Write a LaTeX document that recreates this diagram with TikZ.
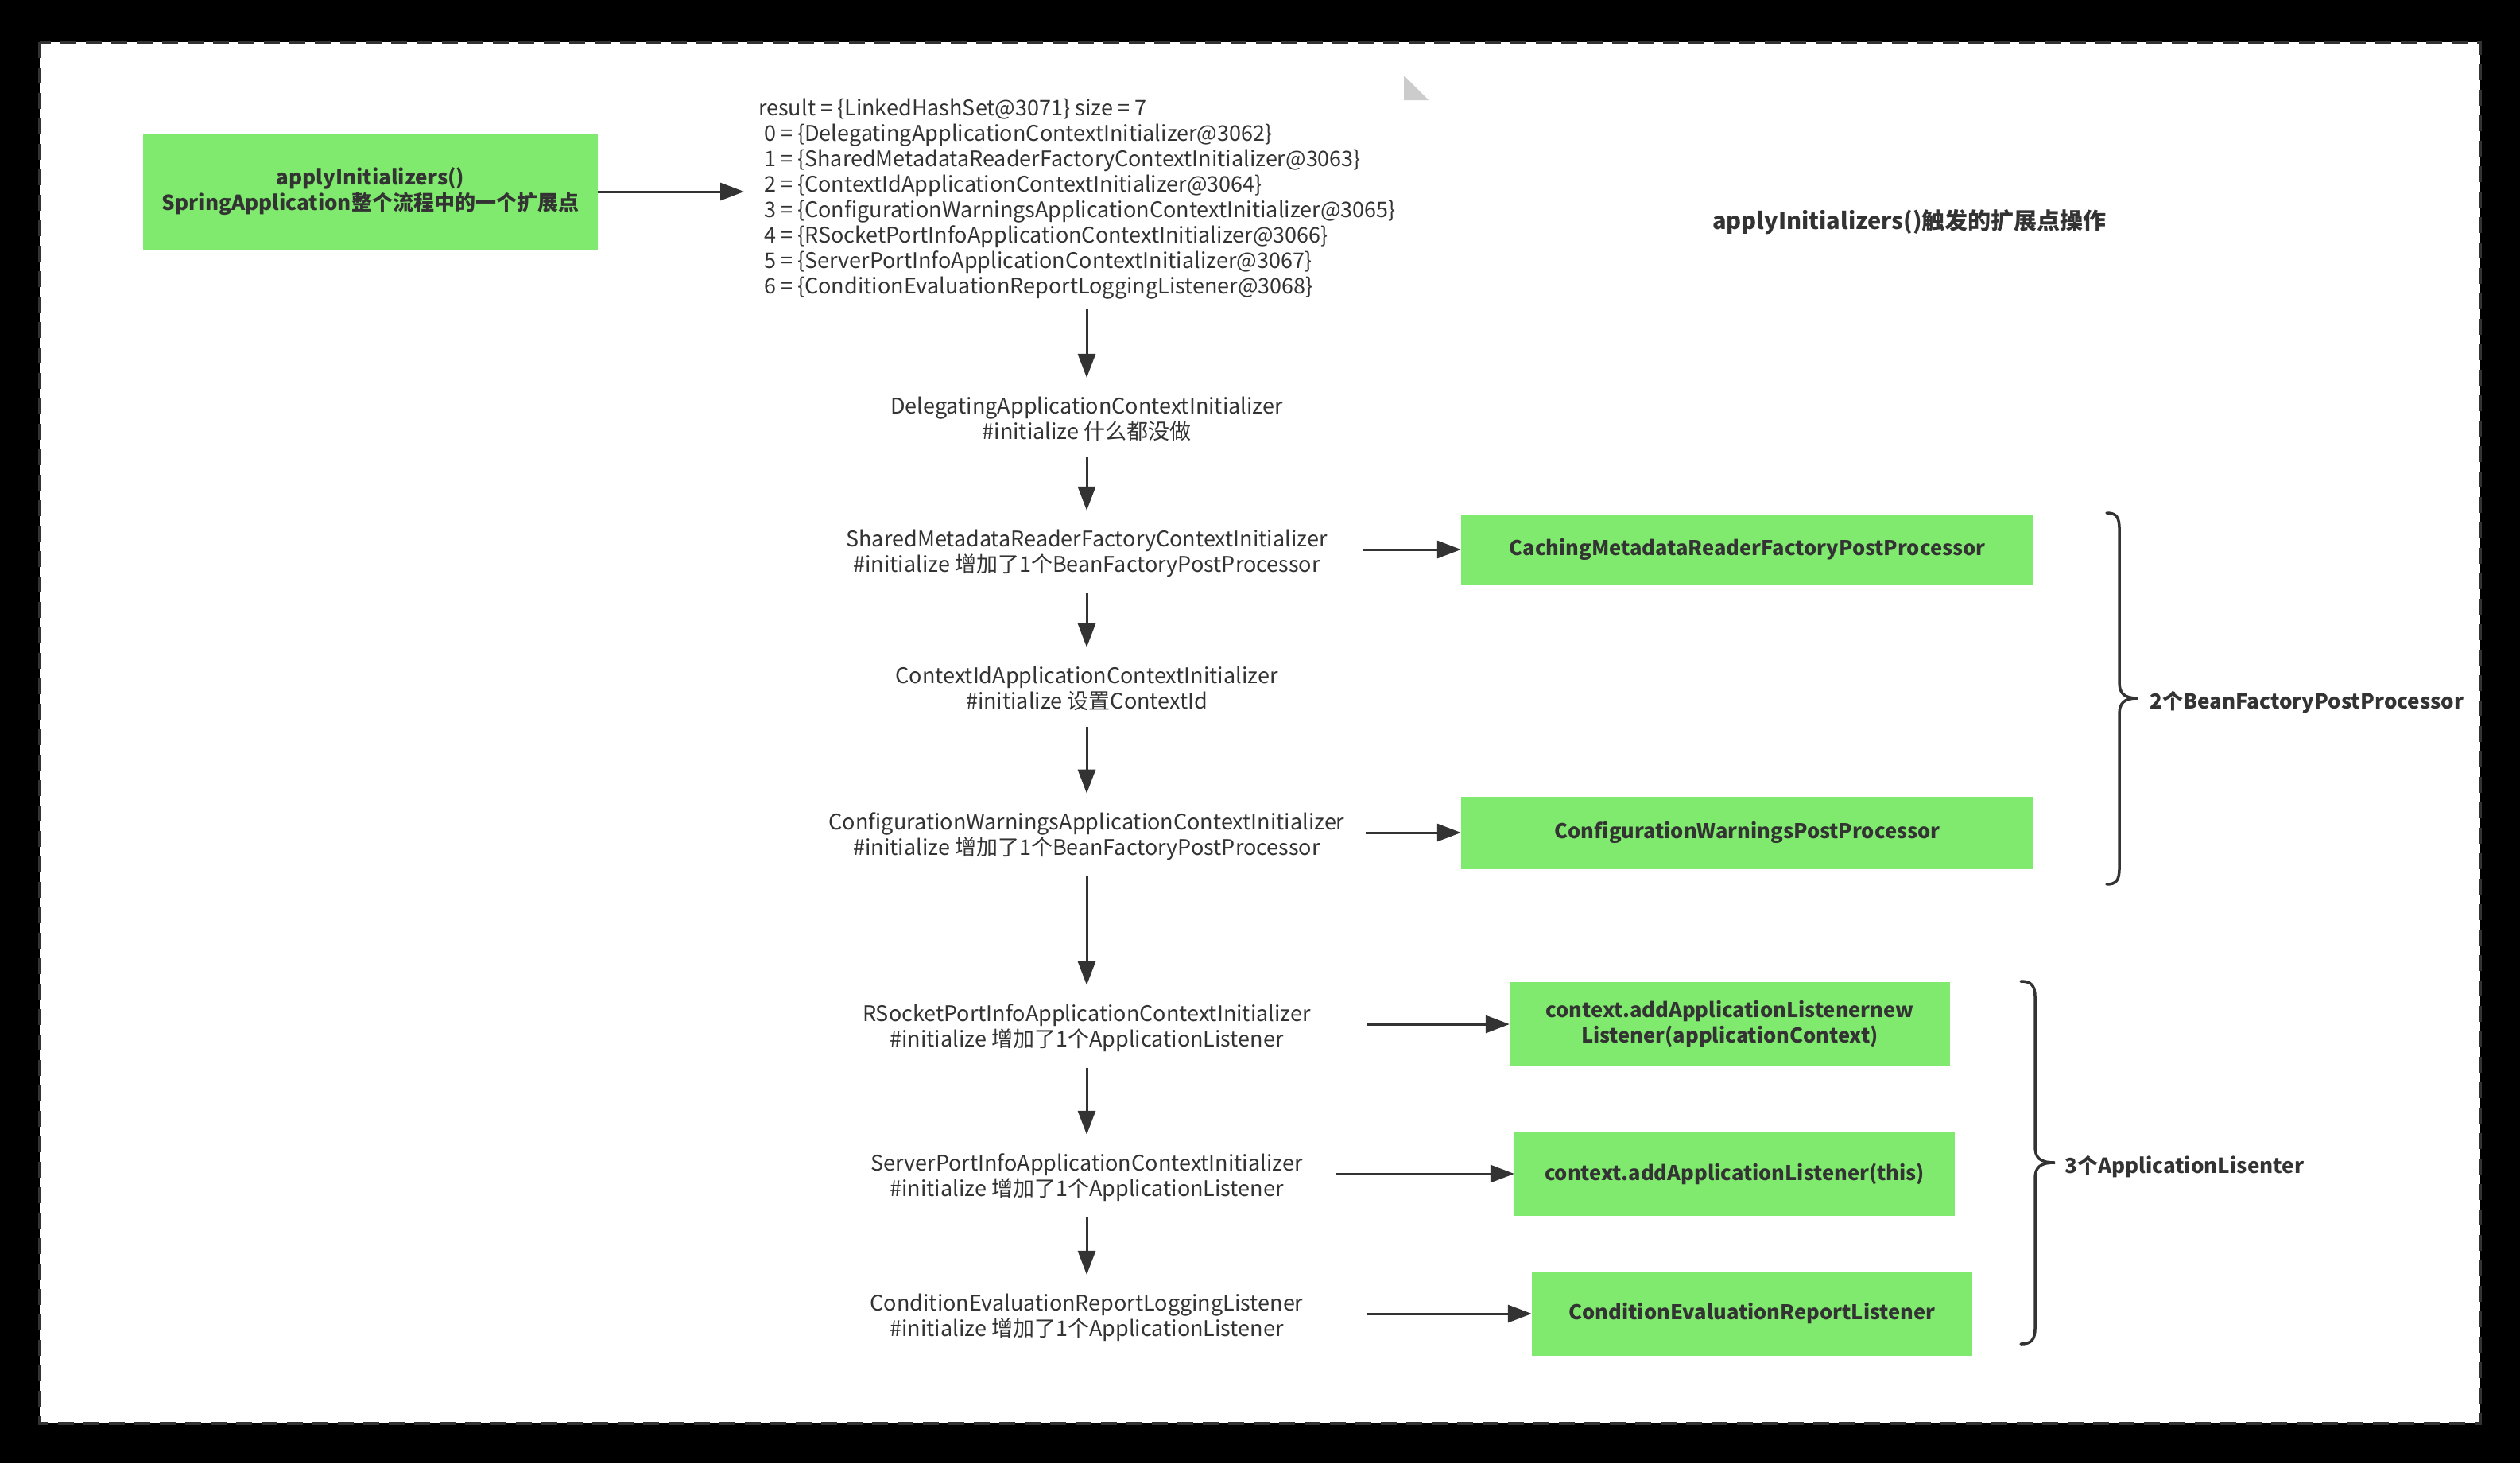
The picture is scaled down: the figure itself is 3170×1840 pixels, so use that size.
\documentclass[tikz,border=0pt]{standalone}
\usepackage{fontspec}
\setmainfont{Noto Sans CJK SC}
\usetikzlibrary{arrows.meta}

\definecolor{boxgreen}{RGB}{128,234,110}
\definecolor{ink}{RGB}{51,51,51}
\definecolor{corner}{RGB}{204,204,204}

\tikzset{
  greenbox/.style={fill=boxgreen, text=ink, inner sep=0pt, align=center,
    font=\bfseries\fontsize{25.5}{32}\selectfont},
  note/.style={text=ink, inner sep=0pt, align=center,
    font=\fontsize{27}{32}\selectfont},
  label/.style={text=ink, inner sep=0pt, anchor=west,
    font=\bfseries\fontsize{26}{32}\selectfont},
  arr/.style={draw=ink, line width=3pt, -{Triangle[length=30pt,width=22pt]}},
  down/.style={arr, shorten <=20pt, shorten >=24pt},
  brace/.style={draw=ink, line width=3.5pt, line cap=round},
}

\begin{document}
\begin{tikzpicture}[x=1pt,y=-1pt]
    % Background and the dashed frame
    \fill[black] (0,0) rectangle (3170,1840);
    \fill[white] (50,53) rectangle (3120,1790);
    \draw[ink, line width=4pt, dash pattern=on 20pt off 12pt] (50,53) rectangle (3120,1790);
    \fill[corner] (1766,95) -- (1766,126) -- (1797,126) -- cycle;

    % Entry point and the list of initializers
    \node[greenbox, font=\bfseries\fontsize{26}{32}\selectfont, minimum width=572, minimum height=145] (apply) at (466,241)
        {applyInitializers()\\SpringApplication整个流程中的一个扩展点};
    \node[note, align=left, anchor=west] (result) at (954,250)
        {result = \{LinkedHashSet@3071\} size = 7\\
         \hspace*{7pt}0 = \{DelegatingApplicationContextInitializer@3062\}\\
         \hspace*{7pt}1 = \{SharedMetadataReaderFactoryContextInitializer@3063\}\\
         \hspace*{7pt}2 = \{ContextIdApplicationContextInitializer@3064\}\\
         \hspace*{7pt}3 = \{ConfigurationWarningsApplicationContextInitializer@3065\}\\
         \hspace*{7pt}4 = \{RSocketPortInfoApplicationContextInitializer@3066\}\\
         \hspace*{7pt}5 = \{ServerPortInfoApplicationContextInitializer@3067\}\\
         \hspace*{7pt}6 = \{ConditionEvaluationReportLoggingListener@3068\}};
    \node[label, font=\bfseries\fontsize{29}{32}\selectfont, anchor=center] (title) at (2402,279)
        {applyInitializers()触发的扩展点操作};

    % The initializers one after another
    \node[note] (delegating) at (1367,527)
        {DelegatingApplicationContextInitializer\\\#initialize 什么都没做};
    \node[note] (shared) at (1367,696)
        {SharedMetadataReaderFactoryContextInitializer\\\#initialize 增加了1个BeanFactoryPostProcessor};
    \node[note] (contextid) at (1367,866)
        {ContextIdApplicationContextInitializer\\\#initialize 设置ContextId};
    \node[note] (warnings) at (1367,1052)
        {ConfigurationWarningsApplicationContextInitializer\\\#initialize 增加了1个BeanFactoryPostProcessor};
    \node[note] (rsocket) at (1367,1293)
        {RSocketPortInfoApplicationContextInitializer\\\#initialize 增加了1个ApplicationListener};
    \node[note] (serverport) at (1367,1481)
        {ServerPortInfoApplicationContextInitializer\\\#initialize 增加了1个ApplicationListener};
    \node[note] (condition) at (1367,1657)
        {ConditionEvaluationReportLoggingListener\\\#initialize 增加了1个ApplicationListener};

    % What each initializer adds
    \node[greenbox, minimum width=720, minimum height=89] (caching) at (2198,691)
        {CachingMetadataReaderFactoryPostProcessor};
    \node[greenbox, minimum width=720, minimum height=91] (warnpp) at (2198,1047)
        {ConfigurationWarningsPostProcessor};
    \node[greenbox, minimum width=554, minimum height=106] (ctxlistener) at (2176,1288)
        {context.addApplicationListenernew\\Listener(applicationContext)};
    \node[greenbox, minimum width=554, minimum height=106] (thislistener) at (2182,1476)
        {context.addApplicationListener(this)};
    \node[greenbox, minimum width=554, minimum height=105] (reportlistener) at (2204,1652)
        {ConditionEvaluationReportListener};

    % Arrows
    \draw[arr, shorten >=18pt] (apply.east) -- (apply.east -| result.west);
    \draw[arr, shorten >=24pt] (result.south -| delegating.north) ++(0,12) -- (delegating.north);
    \draw[down] (delegating) -- (shared);
    \draw[down] (shared) -- (contextid);
    \draw[down] (contextid) -- (warnings);
    \draw[down] (warnings) -- (rsocket);
    \draw[down] (rsocket) -- (serverport);
    \draw[down] (serverport) -- (condition);
    \draw[arr] (caching.west -| shared.east) ++(44,0) -- (caching.west);
    \draw[arr] (warnpp.west -| warnings.east) ++(26,0) -- (warnpp.west);
    \draw[arr] (ctxlistener.west -| rsocket.east) ++(70,0) -- (ctxlistener.west);
    \draw[arr] (thislistener.west -| serverport.east) ++(42,0) -- (thislistener.west);
    \draw[arr] (reportlistener.west -| condition.east) ++(79,0) -- (reportlistener.west);

    % Curly braces with their counts
    \draw[brace] (2650,645) .. controls (2662,645) and (2666,650) .. (2666,665)
        -- (2666,858) .. controls (2666,872) and (2672,878) .. (2689,878)
        .. controls (2672,878) and (2666,884) .. (2666,898)
        -- (2666,1092) .. controls (2666,1107) and (2662,1112) .. (2650,1112);
    \node[label] (bfpp) at (2704,883) {2个BeanFactoryPostProcessor};
    \draw[brace] (2542,1234) .. controls (2555,1234) and (2560,1239) .. (2560,1254)
        -- (2560,1442) .. controls (2560,1456) and (2566,1462) .. (2585,1462)
        .. controls (2566,1462) and (2560,1468) .. (2560,1482)
        -- (2560,1670) .. controls (2560,1685) and (2555,1690) .. (2542,1690);
    \node[label] (listeners) at (2597,1467) {3个ApplicationLisenter};
\end{tikzpicture}
\end{document}
